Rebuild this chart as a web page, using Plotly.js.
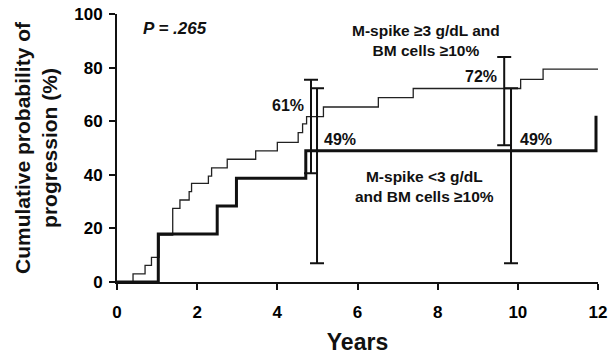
<!DOCTYPE html>
<html><head><meta charset="utf-8">
<script src="https://cdn.plot.ly/plotly-3.0.1.min.js"></script>
<style>html,body{margin:0;padding:0;background:#fff;}#chart{width:610px;height:355px;}</style>
</head><body><div id="chart"></div>
<script>
// M-spike >=3 g/dL group (thin line)
const thinYears = [0, 0.4, 0.7, 0.86, 1.05, 1.39, 1.57, 1.8, 1.86, 2.28, 2.36, 2.75, 3.46, 4.0, 4.52, 4.63, 4.73, 5.15, 6.52, 7.39, 10.07, 10.63, 12];
const thinProb  = [0, 3, 6.2, 9.2, 17.5, 27.5, 30.6, 33.7, 36.8, 39.5, 42.6, 45.8, 48.9, 52.1, 55.7, 59, 61.7, 65.3, 68.8, 72.2, 75.6, 79.4, 79.4];
// M-spike <3 g/dL group (thick line)
const thickYears = [0, 1.03, 2.5, 2.98, 4.71, 11.95];
const thickProb  = [0, 17.9, 28.4, 38.7, 49, 62];
// Confidence intervals
const thinCIYears = [4.84, 9.66];
const thinCIProb  = [61, 72];
const thinCIUp    = [14.5, 12];
const thinCIDown  = [20.4, 21];
const thickCIYears = [4.99, 9.83];
const thickCIProb  = [49, 49];
const thickCIUp    = [23.3, 23.3];
const thickCIDown  = [42, 42];
const xTicks = [0, 2, 4, 6, 8, 10, 12];
const yTicks = [0, 20, 40, 60, 80, 100];

const F = 'Arial, "Liberation Sans", sans-serif';
const traces = [
  {x: thinYears, y: thinProb, mode: 'lines', line: {shape: 'hv', color: '#222', width: 1.3}, hoverinfo: 'none'},
  {x: thickYears, y: thickProb, mode: 'lines', line: {shape: 'hv', color: '#111', width: 3}, hoverinfo: 'none'},
  {x: thinCIYears, y: thinCIProb, mode: 'markers', marker: {size: 1, color: 'rgba(0,0,0,0)'},
   error_y: {type: 'data', symmetric: false, array: thinCIUp, arrayminus: thinCIDown, color: '#111', thickness: 2, width: 7}},
  {x: thickCIYears, y: thickCIProb, mode: 'markers', marker: {size: 1, color: 'rgba(0,0,0,0)'},
   error_y: {type: 'data', symmetric: false, array: thickCIUp, arrayminus: thickCIDown, color: '#111', thickness: 2, width: 7}}
];
const ann = (x, y, text, size, extra) => Object.assign({x: x, y: y, xref: 'x', yref: 'y', text: text, showarrow: false,
  font: {family: F, size: size, color: '#111', weight: 'bold'}}, extra || {});
const layout = {
  width: 610, height: 355,
  margin: {l: 117, r: 12, t: 14, b: 73},
  paper_bgcolor: '#fff', plot_bgcolor: '#fff',
  showlegend: false,
  xaxis: {range: [0, 12], tickvals: xTicks, ticktext: xTicks.map(String), showgrid: false, zeroline: false,
    showline: true, linecolor: '#111', linewidth: 2, ticks: 'outside', ticklen: 6, tickwidth: 2, tickcolor: '#111',
    ticklabelstandoff: 8,
    tickfont: {family: F, size: 17, color: '#000', weight: 900},
    title: {text: 'Years', font: {family: F, size: 23, color: '#111', weight: 'bold'}, standoff: 12}},
  yaxis: {range: [0, 100], tickvals: yTicks, ticktext: yTicks.map(String), showgrid: false, zeroline: false,
    showline: true, linecolor: '#111', linewidth: 2, ticks: 'outside', ticklen: 6, tickwidth: 2, tickcolor: '#111',
    ticklabelstandoff: 3,
    tickfont: {family: F, size: 17, color: '#000', weight: 900},
    title: {text: 'Cumulative probability of<br>progression (%)', font: {family: F, size: 21, color: '#111', weight: 'bold'}, standoff: 11}},
  annotations: [
    ann(1.45, 94.5, '<i>P</i> = .265', 17, {font: {family: F, size: 17, color: '#111', weight: 'bold', style: 'italic'}}),
    ann(7.71, 90, 'M-spike ≥3 g/dL and<br>BM cells ≥10%', 15.5),
    ann(4.27, 65.7, '61%', 16),
    ann(5.56, 53, '49%', 16),
    ann(9.08, 76.5, '72%', 16),
    ann(10.45, 53, '49%', 16),
    ann(7.66, 35.8, 'M-spike <3 g/dL<br>and BM cells ≥10%', 15.5)
  ]
};
Plotly.newPlot('chart', traces, layout, {staticPlot: true});
</script></body></html>
